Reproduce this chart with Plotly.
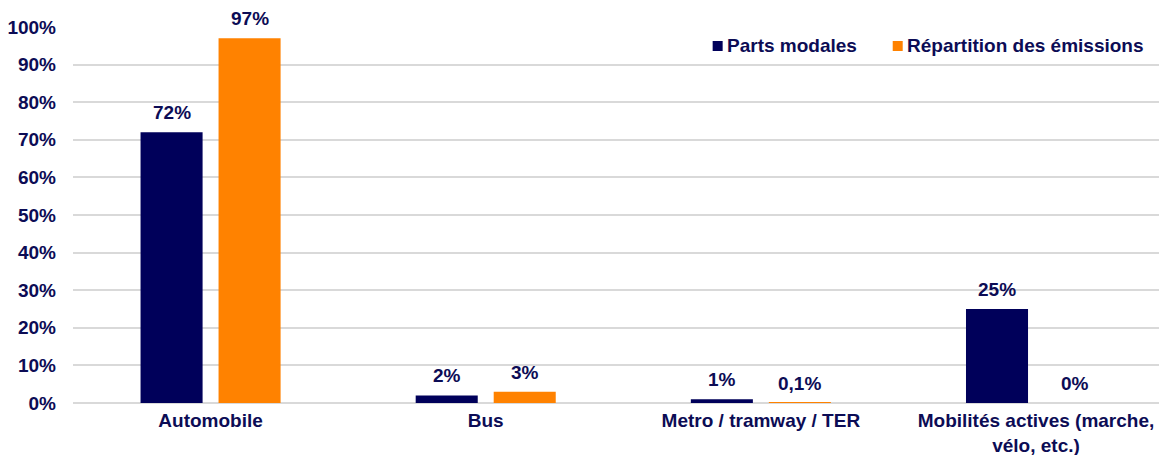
import plotly.graph_objects as go

categories = ["Automobile", "Bus", "Metro / tramway / TER", "Mobilités actives (marche,<br>vélo, etc.)"]
parts_modales = [72, 2, 1, 25]
parts_labels = ["72%", "2%", "1%", "25%"]
emissions = [97, 3, 0.1, 0]
emissions_labels = ["97%", "3%", "0,1%", "0%"]
y_ticks = [0, 10, 20, 30, 40, 50, 60, 70, 80, 90, 100]
y_tick_text = [f"{v}%" for v in y_ticks]

NAVY = "#00005a"
ORANGE = "#ff8200"
TEXT = "#0c0c55"
FONT = "Liberation Sans, Arial, sans-serif"
FS = 19

bar_w = 0.2255
off_navy = -0.2545
off_orange = 0.029

series = [
    ("Parts modales", parts_modales, parts_labels, off_navy, NAVY),
    ("Répartition des émissions", emissions, emissions_labels, off_orange, ORANGE),
]

fig = go.Figure()
annotations = []
for name, vals, labels, off, color in series:
    fig.add_trace(go.Bar(
        name=name, x=list(range(len(categories))), y=vals,
        width=bar_w, offset=off, marker_color=color, marker_line_width=0,
        showlegend=False,
    ))
    for i, (v, t) in enumerate(zip(vals, labels)):
        annotations.append(dict(
            x=i + off + bar_w / 2, y=v, text=f"<b>{t}</b>", showarrow=False,
            yanchor="bottom", yshift=7, font=dict(family=FONT, size=FS, color=TEXT),
        ))

# Legend drawn as square swatches plus bold labels, top right
LEG_Y = 0.9495
legend_items = [(0.589, series[0][0], NAVY), (0.7548, series[1][0], ORANGE)]
shapes = []
for lx, name, color in legend_items:
    shapes.append(dict(
        type="rect", xref="paper", yref="paper", xsizemode="pixel", ysizemode="pixel",
        xanchor=lx, yanchor=LEG_Y, x0=0, x1=10, y0=-5, y1=5,
        fillcolor=color, line_width=0,
    ))
    annotations.append(dict(
        xref="paper", yref="paper", x=lx, y=LEG_Y, xanchor="left", yanchor="middle",
        xshift=12, text=f"<b>{name}</b>", showarrow=False,
        font=dict(family=FONT, size=FS, color=TEXT),
    ))

fig.update_layout(
    width=1159, height=455,
    margin=dict(l=73, r=0, t=27, b=52),
    paper_bgcolor="white", plot_bgcolor="white",
    barmode="overlay",
    font=dict(family=FONT, size=FS, color=TEXT),
    showlegend=False,
    annotations=annotations,
    shapes=shapes,
    xaxis=dict(
        range=[-0.5, 3.447], tickmode="array", tickvals=list(range(len(categories))),
        ticktext=[f"<b>{c}</b>" for c in categories], showgrid=False, zeroline=False,
        showline=False, ticks="", ticklabelstandoff=4, automargin=False,
        tickfont=dict(family=FONT, size=FS, color=TEXT),
    ),
    yaxis=dict(
        range=[0, 100], tickmode="array", tickvals=y_ticks,
        ticktext=[f"<b>{t}</b>" for t in y_tick_text],
        showgrid=True, gridcolor="#d9d9d9", gridwidth=2, zeroline=True,
        zerolinecolor="#d9d9d9", zerolinewidth=2, showline=False, ticks="",
        ticklabelstandoff=16, automargin=False,
        tickfont=dict(family=FONT, size=FS, color=TEXT),
    ),
)

fig.write_html("out.html")
